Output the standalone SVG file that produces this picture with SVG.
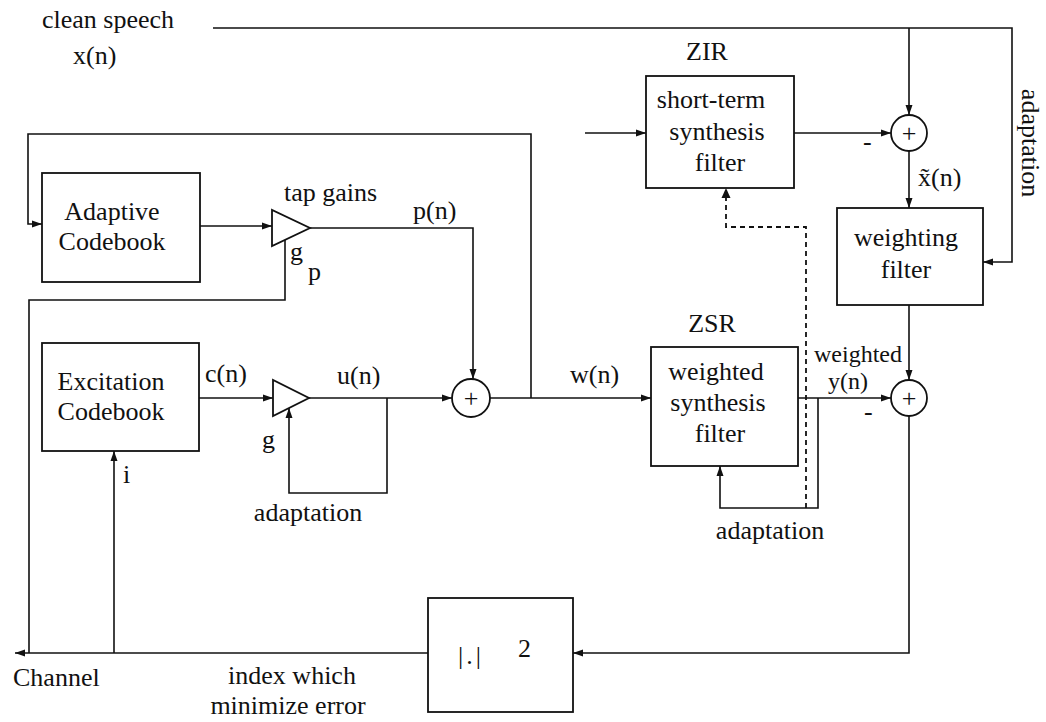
<svg xmlns="http://www.w3.org/2000/svg" width="1046" height="722" viewBox="0 0 1046 722">
<style>
.ln{fill:none;stroke:#111;stroke-width:1.6}
.ds{fill:none;stroke:#111;stroke-width:1.8;stroke-dasharray:5 4}
.bx{fill:#fff;stroke:#111;stroke-width:1.8}
.t{font-family:"Liberation Serif","Times New Roman",serif;font-size:26px;fill:#111}
.s{font-size:24px}
.m{text-anchor:middle}
</style>
<defs>
<marker id="ah" markerUnits="userSpaceOnUse" markerWidth="10" markerHeight="8" refX="10" refY="4" orient="auto">
<path d="M0,0.5 L10,4 L0,7.5 z" fill="#111"/>
</marker>
</defs>
<rect width="1046" height="722" fill="#fff"/>

<g id="connectors">
<path class="ln" d="M213,28 L1012,28 L1012,262 L983,262" marker-end="url(#ah)"/>
<path class="ln" d="M909,28 L909,115" marker-end="url(#ah)"/>
<path class="ln" d="M585,133 L646,133" marker-end="url(#ah)"/>
<path class="ln" d="M794,133 L891,133" marker-end="url(#ah)"/>
<path class="ln" d="M909,151 L909,208" marker-end="url(#ah)"/>
<path class="ln" d="M909,305 L909,380" marker-end="url(#ah)"/>
<path class="ln" d="M909,416 L909,653 L573,653" marker-end="url(#ah)"/>
<path class="ln" d="M428,653 L15,653" marker-end="url(#ah)"/>
<path class="ln" d="M114,653 L114,451" marker-end="url(#ah)"/>
<path class="ln" d="M29,653 L29,300 L285,300 L285,240"/>
<path class="ln" d="M531,398 L531,134 L28,134 L28,224 L42,224" marker-end="url(#ah)"/>
<path class="ln" d="M200,226 L272,226" marker-end="url(#ah)"/>
<path class="ln" d="M310,228 L473,228 L473,379" marker-end="url(#ah)"/>
<path class="ln" d="M199,398 L273,398" marker-end="url(#ah)"/>
<path class="ln" d="M309,398 L452,398" marker-end="url(#ah)"/>
<path class="ln" d="M387,398 L387,493 L289,493 L289,408" marker-end="url(#ah)"/>
<path class="ln" d="M490,398 L651,398" marker-end="url(#ah)"/>
<path class="ln" d="M798,398 L891,398" marker-end="url(#ah)"/>
<path class="ln" d="M818,398 L818,508 L720,508 L720,466" marker-end="url(#ah)"/>
<path class="ds" d="M806,508 L806,227 L726,227 L726,190"/>
<path d="M721.5,198 L726,188 L730.5,198 z" fill="#111"/>
</g>

<g id="adaptive-codebook">
<rect class="bx" x="42" y="173" width="158" height="109"/>
<text class="t m" x="112" y="220">Adaptive</text>
<text class="t m" x="112" y="250">Codebook</text>
</g>

<g id="gain-p">
<polygon class="bx" points="272,210 272,246 310,228"/>
<text class="t" x="284" y="201">tap gains</text>
<text class="t" x="290" y="260">g</text>
<text class="t" x="308" y="280">p</text>
<text class="t" x="413" y="219">p(n)</text>
</g>

<g id="excitation-codebook">
<rect class="bx" x="42" y="343" width="157" height="108"/>
<text class="t m" x="111" y="390">Excitation</text>
<text class="t m" x="111" y="420">Codebook</text>
<text class="t" x="123" y="483">i</text>
</g>

<g id="gain-g">
<polygon class="bx" points="273,380 273,416 309,398"/>
<text class="t" x="205" y="382">c(n)</text>
<text class="t" x="337" y="384">u(n)</text>
<text class="t" x="262" y="448">g</text>
<text class="t m" x="308" y="521">adaptation</text>
</g>

<g id="sum1">
<circle class="bx" cx="471" cy="398" r="19"/>
<text class="t m" x="471" y="407">+</text>
<text class="t" x="570" y="383">w(n)</text>
</g>

<g id="zir">
<text class="t m" x="707" y="60">ZIR</text>
<rect class="bx" x="646" y="76" width="148" height="112"/>
<text class="t m" x="711" y="108">short-term</text>
<text class="t m" x="717" y="140">synthesis</text>
<text class="t m" x="720" y="171">filter</text>
</g>

<g id="sum2">
<circle class="bx" cx="909" cy="133" r="18"/>
<text class="t m" x="909" y="142">+</text>
<text class="t" x="863" y="150">-</text>
<text class="t" x="918" y="186">x̃(n)</text>
</g>

<g id="weighting-filter">
<rect class="bx" x="837" y="208" width="146" height="97"/>
<text class="t m" x="906" y="246">weighting</text>
<text class="t m" x="906" y="278">filter</text>
<text class="t m" transform="translate(1030,143) rotate(90)" y="8">adaptation</text>
</g>

<g id="zsr">
<text class="t m" x="712" y="332">ZSR</text>
<rect class="bx" x="651" y="347" width="147" height="119"/>
<text class="t m" x="716" y="380">weighted</text>
<text class="t m" x="718" y="411">synthesis</text>
<text class="t m" x="720" y="442">filter</text>
<text class="t m" x="770" y="539">adaptation</text>
</g>

<g id="sum3">
<circle class="bx" cx="909" cy="398" r="18"/>
<text class="t m" x="909" y="407">+</text>
<text class="t s m" x="858" y="362">weighted</text>
<text class="t s m" x="848" y="389">y(n)</text>
<text class="t" x="864" y="420">-</text>
</g>

<g id="norm">
<rect class="bx" x="428" y="598" width="145" height="114"/>
<text class="t" x="458" y="664" style="letter-spacing:3px">|.|</text>
<text class="t" x="518" y="657">2</text>
</g>

<g id="labels">
<text class="t" x="42" y="28">clean speech</text>
<text class="t" x="73" y="64">x(n)</text>
<text class="t" x="13" y="686">Channel</text>
<text class="t m" x="292" y="684">index which</text>
<text class="t m" x="288" y="714">minimize error</text>
</g>
</svg>
